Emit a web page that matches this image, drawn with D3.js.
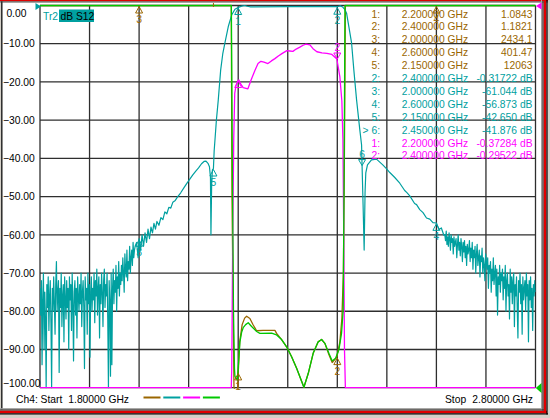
<!DOCTYPE html>
<html>
<head>
<meta charset="utf-8">
<title>Ch4 S12 sweep</title>
<script src="https://d3js.org/d3.v7.min.js"></script>
<style>
  body { margin: 0; padding: 0; background: #d4d0c8; }
  svg { display: block; }
  text { font-family: 'Liberation Sans', Arial, sans-serif; font-size: 10.3px; }
</style>
</head>
<body>
<div id="chart"></div>
<script>
// sweep (GHz) and amplitude grid (dB)
const freqStart = 1.8, freqStop = 2.8;
const freqGrid = [1.8, 1.9, 2.0, 2.1, 2.2, 2.3, 2.4, 2.5, 2.6, 2.7, 2.8];
const dbTicks = [0, -10, -20, -30, -40, -50, -60, -70, -80, -90, -100];

// teal trace: noisy floor below the band (evenly spaced sweep points)
const tealLowStart = 1.800, tealLowStop = 1.992;
const tealLowDb = [
  -74,-81,-72,-94,-77,-70,-90,-75,-82,-100,-73,-79,-71,-85,-76,-72,-83,-100,-74,-80,
  -71,-78,-86,-73,-67,-80,-75,-72,-96,-74,-79,-70,-84,-76,-73,-88,-71,-77,-82,-72,
  -79,-74,-90,-71,-77,-73,-85,-70,-78,-93,-75,-72,-81,-74,-87,-71,-76,-80,-73,-78,
  -70,-84,-75,-72,-79,-95,-71,-77,-74,-86,-70,-78,-73,-92,-75,-71,-80,-74,-77,-70,
  -83,-72,-76,-69,-81,-74,-71,-87,-73,-78,-70,-75,-84,-72,-69,-79,-73,-76,-70,-82,
  -100,-72,-77,-97,-70,-94,-74,-69,-78,-72,-75,-68,-80,-71,-74,-67,-76,-70,-73,-68,
  -72,-66,-70,-75,-65,-69,-71,-64,-72,-67,-69,-63,-70,-66,-64,-68,-62,-66,-64,-63];

// teal trace: skirts and pass band [GHz, dB]
const tealBand = [[1.995,-62],[1.998,-66],[2.000,-61],[2.003,-64],[2.006,-60],[2.009,-63],[2.012,-59.5],
  [2.015,-62],[2.018,-58.5],[2.021,-61],[2.024,-58],[2.027,-59.5],[2.030,-57],[2.033,-58.5],[2.036,-56.5],
  [2.040,-57.5],[2.044,-55.5],[2.048,-56],[2.052,-54],[2.056,-54.5],[2.060,-52.8],[2.064,-53],[2.068,-51.5],
  [2.073,-51],[2.078,-50],[2.084,-49],[2.090,-47.8],[2.096,-46.6],[2.102,-45.5],[2.108,-44.4],[2.114,-43.4],
  [2.120,-42.5],[2.126,-41.4],[2.131,-40.8],[2.135,-40.7],[2.139,-41.3],[2.142,-42.2],[2.144,-45],[2.145,-60],
  [2.1465,-46],[2.148,-43],[2.150,-42.65],[2.1515,-38],[2.1531,-35.2],[2.156,-30],[2.1598,-24.7],[2.1646,-16.9],
  [2.169,-12.5],[2.1732,-9.8],[2.180,-5.5],[2.1868,-2.5],[2.1934,-1],[2.200,-0.5],[2.207,-0.15],[2.213,0],
  [2.218,-0.2],[2.225,-0.35],[2.300,-0.3],[2.360,-0.28],[2.400,-0.32],[2.406,-0.1],[2.411,-0.4],[2.415,-1],
  [2.4187,-2],[2.4234,-5.6],[2.4288,-9.8],[2.4334,-16.9],[2.4389,-24.7],[2.4455,-32.6],[2.449,-36.5],
  [2.450,-41.9],[2.452,-52],[2.4542,-64],[2.456,-49],[2.4575,-43.8],[2.4609,-41.7],[2.469,-40.4],[2.4791,-40.2],
  [2.4918,-41.7],[2.500,-42.8],[2.5059,-43.7],[2.516,-45],[2.5261,-46.5],[2.536,-48.4],[2.540,-48.9],
  [2.5463,-49.8],[2.556,-51.8],[2.560,-52.1],[2.5664,-53.4],[2.573,-54.2],[2.580,-55.6],[2.5866,-55.9],
  [2.593,-56.8],[2.600,-56.9],[2.605,-58.6],[2.610,-58.2],[2.615,-60.1]];

// teal trace: noisy floor above the band
const tealHighStart = 2.617, tealHighStop = 2.800;
const tealHighDb = [
  -60,-61.5,-59,-62.5,-60.5,-63,-59.5,-61,-64,-60,-62,-61,-65,-60.5,-63,-62,-61,-66,-62.5,-60,
  -64,-62,-65.5,-61,-63,-67,-62,-64.5,-61.5,-66,-63,-68,-62.5,-65,-64,-61.5,-67,-63.5,-66,-62,
  -69,-64,-66,-63,-70,-65,-62.5,-68,-66,-64,-71,-65.5,-67,-63.5,-70,-66,-68,-72,-65,-67,
  -69,-66,-74,-68,-70,-67,-75,-69,-72,-66,-73,-70,-68,-76,-69,-81,-71,-73,-68,-75,
  -70,-72,-69,-77,-71,-74,-68,-80,-72,-70,-76,-73,-82,-69,-75,-71,-78,-72,-70,-84,
  -73,-76,-71,-79,-87,-72,-75,-70,-78,-73,-86,-71,-77,-74,-72,-80,-70,-76,-73,-88,
  -72,-77,-71,-79,-74,-85,-73,-76,-72,-75];

// magenta trace [GHz, dB]
const magentaTrace = [[1.800,-100],[2.186,-100],[2.187,-95],[2.189,-60],[2.191,-35],[2.193,-23],[2.1955,-21],
  [2.199,-19.8],[2.2014,-19.5],[2.205,-20.5],[2.210,-21.5],[2.2196,-21.8],[2.226,-19.5],[2.2337,-17],
  [2.240,-15.2],[2.2458,-14.6],[2.252,-14.8],[2.260,-15.2],[2.267,-14.5],[2.2741,-13.9],[2.281,-13.2],
  [2.2882,-12.6],[2.2983,-11.8],[2.304,-11.9],[2.3104,-12],[2.317,-11.4],[2.3245,-10.9],[2.331,-10.4],
  [2.3366,-10.1],[2.3447,-10.3],[2.351,-11.3],[2.3588,-12.1],[2.3689,-12.4],[2.379,-12.5],[2.3891,-12.8],
  [2.3991,-14],[2.4052,-18.7],[2.4092,-25],[2.4113,-35],[2.413,-60],[2.4145,-90],[2.4163,-100],[2.800,-100]];

// green trace [GHz, dB]
const greenTrace = [[1.800,0],[2.1862,0],[2.188,-40],[2.1905,-80],[2.1925,-95],[2.1934,-97],[2.1984,-98],
  [2.2035,-88],[2.2069,-85.5],[2.2101,-84.3],[2.215,-83.5],[2.2202,-83],[2.2271,-84],[2.2372,-85.3],
  [2.2438,-85.8],[2.2674,-85.7],[2.2775,-86.2],[2.2876,-87.4],[2.2977,-89.3],[2.3078,-91.9],[2.3179,-94.9],
  [2.3326,-99.9],[2.3413,-96.3],[2.3513,-91],[2.3614,-88],[2.3683,-87.4],[2.3749,-88.4],[2.383,-91],
  [2.3897,-93],[2.3965,-92.3],[2.4032,-90.1],[2.4086,-85.7],[2.4119,-79.6],[2.4139,-40],[2.4155,0],[2.800,0]];

// brown trace [GHz, dB]
const brownTrace = [[1.800,0],[2.186,0],[2.1875,-50],[2.1915,-100],[2.196,-104],[2.199,-100],[2.2001,-96],
  [2.203,-88],[2.208,-83.5],[2.213,-81.8],[2.217,-81.3],[2.2236,-81.9],[2.2303,-83.6],[2.2372,-85.1],
  [2.250,-85],[2.2741,-85],[2.2775,-85.8],[2.2876,-87.4],[2.2977,-89.3],[2.3078,-91.9],[2.3179,-94.9],
  [2.3326,-99.9],[2.3413,-96.3],[2.3513,-91],[2.3614,-88],[2.3683,-87.4],[2.3749,-88.4],[2.383,-91.3],
  [2.3897,-93.4],[2.3991,-92],[2.4052,-88],[2.4092,-82],[2.4123,-70],[2.4143,-40],[2.4163,0],[2.800,0]];

// marker positions [number, GHz, dB on screen]
const brownMarkers = [[1, 2.2, -96], [2, 2.4, -92], [3, 2.0, 0], [4, 2.6, 0]];
const tealMarkers = [[1, 2.2, -0.4], [2, 2.4, -0.32], [3, 2.0, -61.04], [4, 2.6, -56.87], [5, 2.15, -42.65]];
const tealActive = [[6, 2.45, -41.88]];
const magentaMarkers = [[1, 2.2, -19.5]];
const magentaActive = [[2, 2.4, -14]];

// marker readout table
const tableNums = ["1:", "2:", "3:", "4:", "5:", "2:", "3:", "4:", "5:", "> 6:", "1:", "2:"];
const tableFreqs = ["2.200000 GHz", "2.400000 GHz", "2.000000 GHz", "2.600000 GHz", "2.150000 GHz",
  "2.400000 GHz", "2.000000 GHz", "2.600000 GHz", "2.150000 GHz", "2.450000 GHz", "2.200000 GHz", "2.400000 GHz"];
const tableVals = ["1.0843", "1.1821", "2434.1", "401.47", "12063", "-0.31722 dB", "-61.044 dB",
  "-56.873 dB", "-42.650 dB", "-41.876 dB", "-0.37284 dB", "-0.29522 dB"];
const tableTrace = ["brown", "brown", "brown", "brown", "brown", "teal", "teal", "teal", "teal", "teal", "magenta", "magenta"];

const colors = {brown: "#9a6600", teal: "#00a0a0", magenta: "#ff00ff", green: "#00c800"};

const W = 550, H = 418;
const plotLeft = 40, plotRight = 535.5, plotTop = 5.5, plotBottom = 387.7;

const svg = d3.select("#chart").append("svg")
    .attr("width", W).attr("height", H);

// window frame
svg.append("rect").attr("x", 0).attr("y", 0).attr("width", W).attr("height", H).attr("fill", "#d4d0c8");
svg.append("rect").attr("x", 2.5).attr("y", 2.5).attr("width", 538.5).attr("height", 405.5).attr("fill", "#fff");
svg.append("rect").attr("x", 0).attr("y", 0).attr("width", 548).attr("height", 1.3).attr("fill", "#e00000");
svg.append("rect").attr("x", 0).attr("y", 1.3).attr("width", 548).attr("height", 1.2).attr("fill", "#606060");
svg.append("rect").attr("x", 1).attr("y", 1.3).attr("width", 1.5).attr("height", 408).attr("fill", "#303030");
svg.append("rect").attr("x", 0).attr("y", 408.2).attr("width", 542).attr("height", 1).attr("fill", "#a0a0a0");
svg.append("rect").attr("x", 0).attr("y", 409.4).attr("width", 544).attr("height", 1.2).attr("fill", "#303030");
svg.append("rect").attr("x", 0).attr("y", 410.8).attr("width", 547).attr("height", 2.4).attr("fill", "#e00000");
svg.append("rect").attr("x", 0).attr("y", 413.3).attr("width", 548).attr("height", 1.2).attr("fill", "#000");
svg.append("rect").attr("x", 541).attr("y", 0).attr("width", 1).attr("height", 409).attr("fill", "#a0a0a0");
svg.append("rect").attr("x", 542.4).attr("y", 1.3).attr("width", 1.2).attr("height", 409.3).attr("fill", "#303030");
svg.append("rect").attr("x", 543.8).attr("y", 0).attr("width", 2.4).attr("height", 413.2).attr("fill", "#e00000");
svg.append("rect").attr("x", 546.4).attr("y", 0).attr("width", 1.2).attr("height", 414.5).attr("fill", "#000");

const x = d3.scaleLinear().domain([freqStart, freqStop]).range([plotLeft, plotRight]);
const y = d3.scaleLinear().domain([-100, 0]).range([plotBottom, plotTop]);

// grid
const grid = svg.append("g").attr("stroke", "#2e2e2e").attr("stroke-width", 1.3);
grid.selectAll(".vx").data(freqGrid).join("line")
    .attr("x1", d => x(d)).attr("x2", d => x(d)).attr("y1", plotTop).attr("y2", plotBottom);
grid.selectAll(".hy").data(dbTicks).join("line")
    .attr("x1", plotLeft).attr("x2", plotRight).attr("y1", d => y(d)).attr("y2", d => y(d));

// amplitude labels
const fmt = d3.format(".2f");
svg.append("g").selectAll("text").data(dbTicks).join("text")
    .attr("x", d => d < 0 ? 3 : 6.4)
    .attr("y", d => Math.min(Math.max(y(d), 13), 383.5) + 3.7)
    .attr("fill", "#000")
    .text(d => fmt(d));

// traces
svg.append("clipPath").attr("id", "plotClip").append("rect")
    .attr("x", plotLeft).attr("y", plotTop - 1).attr("width", plotRight - plotLeft).attr("height", plotBottom - plotTop + 2);

const line = d3.line().x(d => x(d[0])).y(d => y(Math.max(d[1], -101)));

const tealLow = tealLowDb.map((v, i) => [tealLowStart + i * (tealLowStop - tealLowStart) / (tealLowDb.length - 1), v]);
const tealHigh = tealHighDb.map((v, i) => [tealHighStart + i * (tealHighStop - tealHighStart) / (tealHighDb.length - 1), v]);
const tealTrace = tealLow.concat(tealBand, tealHigh);

const traces = svg.append("g").attr("clip-path", "url(#plotClip)")
    .attr("fill", "none").attr("stroke-width", 1.3).attr("stroke-linejoin", "round");
traces.append("path").attr("d", line(brownTrace)).attr("stroke", colors.brown);
traces.append("path").attr("d", line(tealTrace)).attr("stroke", colors.teal).attr("stroke-width", 1.2);
traces.append("path").attr("d", line(magentaTrace)).attr("stroke", colors.magenta);
traces.append("path").attr("d", line(greenTrace)).attr("stroke", colors.green);

// markers: triangle under the point with number below, active ones point down from above
function drawMarkers(list, color, active, showLabel) {
    const g = svg.append("g");
    list.forEach(function(m) {
        const px = x(m[1]), py = y(m[2]);
        if (!active) {
            g.append("path")
                .attr("d", `M${px - 3.5},${py + 7.5}L${px},${py + 1}L${px + 3.5},${py + 7.5}Z`)
                .attr("fill", "none").attr("stroke", color).attr("stroke-width", 1);
            if (showLabel) {
                g.append("text").attr("x", px).attr("y", py + 17.5)
                    .attr("text-anchor", "middle").attr("fill", color).text(m[0]);
            }
        } else {
            g.append("path")
                .attr("d", `M${px - 3.5},${py - 6}L${px},${py}L${px + 3.5},${py - 6}Z`)
                .attr("fill", "none").attr("stroke", color).attr("stroke-width", 1);
            g.append("text").attr("x", px).attr("y", py - 8)
                .attr("text-anchor", "middle").attr("fill", color).text(m[0]);
        }
    });
}
drawMarkers(brownMarkers, colors.brown, false, true);
drawMarkers(tealMarkers, colors.teal, false, true);
drawMarkers(tealActive, colors.teal, true, true);
drawMarkers(magentaMarkers, colors.magenta, false, false);
drawMarkers(magentaActive, colors.magenta, true, true);
svg.append("line").attr("x1", x(2.15)).attr("x2", x(2.15)).attr("y1", 3).attr("y2", 7)
    .attr("stroke", colors.brown).attr("stroke-width", 1);

// reference position arrows
svg.append("path").attr("d", `M${plotLeft - 4.5},3L${plotLeft + 1},6.5L${plotLeft - 4.5},10Z`).attr("fill", colors.teal);
svg.append("path").attr("d", `M${plotRight + 6},2.5L${plotRight + 0.5},6L${plotRight + 6},9.5Z`).attr("fill", colors.magenta);
svg.append("path").attr("d", `M${plotRight + 6},383L${plotRight + 0.3},388L${plotRight + 6},393Z`).attr("fill", colors.green);

// marker readout table
const table = svg.append("g");
tableNums.forEach(function(n, i) {
    const by = 17.5 + i * 12.9;
    const c = colors[tableTrace[i]];
    table.append("text").attr("x", 380).attr("y", by).attr("text-anchor", "end").attr("fill", c).text(n);
    table.append("text").attr("x", 401.7).attr("y", by).attr("fill", c).text(tableFreqs[i]);
    table.append("text").attr("x", 532.5).attr("y", by).attr("text-anchor", "end").attr("fill", c).text(tableVals[i]);
});

// trace title
svg.append("text").attr("x", 43).attr("y", 20).attr("fill", colors.teal).text("Tr2");
svg.append("rect").attr("x", 59).attr("y", 9.5).attr("width", 35).attr("height", 12.5).attr("fill", colors.teal);
svg.append("text").attr("x", 60.5).attr("y", 20).attr("fill", "#000").text("dB S12");

// footer
svg.append("text").attr("x", 16).attr("y", 403).attr("fill", "#000").text("Ch4: Start");
svg.append("text").attr("x", 68.3).attr("y", 403).attr("fill", "#000").text("1.80000 GHz");
svg.append("text").attr("x", 445).attr("y", 403).attr("fill", "#000").text("Stop");
svg.append("text").attr("x", 533).attr("y", 403).attr("text-anchor", "end").attr("fill", "#000").text("2.80000 GHz");
const legendOrder = ["brown", "teal", "magenta", "green"];
svg.append("g").selectAll("line").data(legendOrder).join("line")
    .attr("x1", (d, i) => 143.5 + i * 19.8).attr("x2", (d, i) => 160.5 + i * 19.8)
    .attr("y1", 397.5).attr("y2", 397.5)
    .attr("stroke", d => colors[d]).attr("stroke-width", 2);
</script>
</body>
</html>
